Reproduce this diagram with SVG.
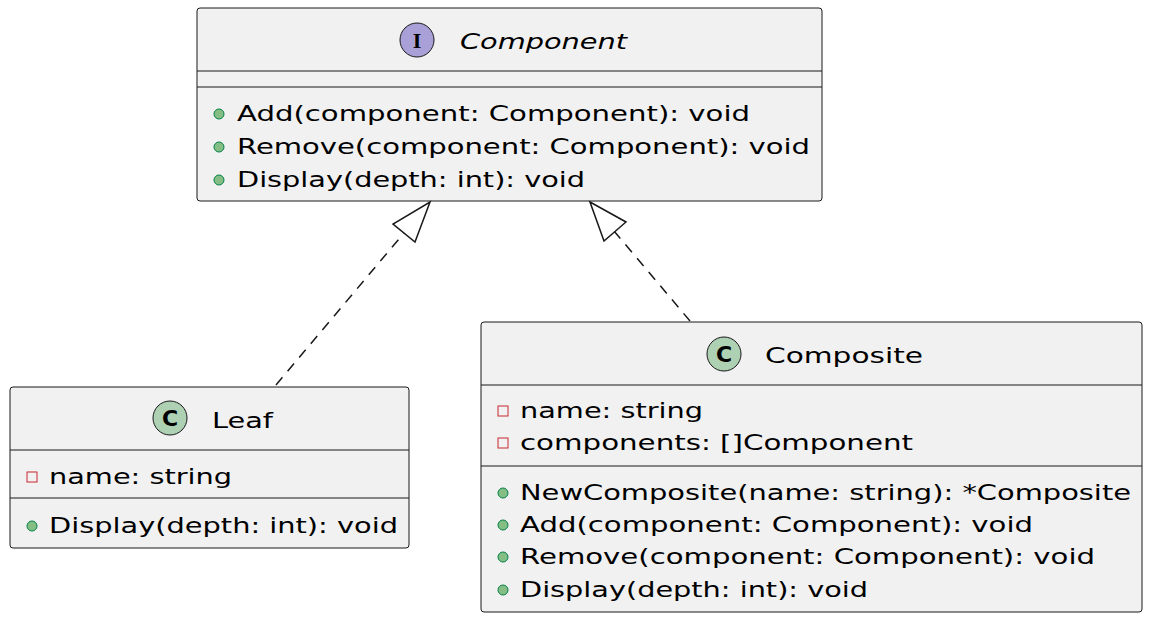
<svg xmlns="http://www.w3.org/2000/svg" width="1152" height="620" viewBox="0 0 1152 620">
<style>
.box{fill:#F1F1F1;stroke:#181818;stroke-width:1}
.sep{stroke:#181818;stroke-width:1}
text{font-family:"DejaVu Sans","Noto Sans",sans-serif;font-size:22px;fill:#000}
.pub{fill:#84BE84;stroke:#038048;stroke-width:1}
.priv{fill:none;stroke:#C82930;stroke-width:1}
.edge{stroke:#181818;stroke-width:1.5;fill:none;stroke-dasharray:10,8}
.head{fill:#fff;stroke:#181818;stroke-width:1.5}
</style>
<g id="Component">
<rect class="box" x="197" y="8" width="625" height="193" rx="3"/>
<circle cx="417" cy="40" r="17" fill="#A9A0D8" stroke="#181818"/>
<text x="417" y="48" text-anchor="middle" font-weight="bold" style="font-family:'Liberation Serif',serif">I</text>
<text x="460" y="49" font-style="italic" textLength="167" lengthAdjust="spacingAndGlyphs">Component</text>
<line class="sep" x1="197" y1="71" x2="822" y2="71"/>
<line class="sep" x1="197" y1="87" x2="822" y2="87"/>
<circle class="pub" cx="219" cy="114" r="5"/><text x="237" y="121" textLength="513" lengthAdjust="spacingAndGlyphs">Add(component: Component): void</text>
<circle class="pub" cx="219" cy="147" r="5"/><text x="237" y="154" textLength="573" lengthAdjust="spacingAndGlyphs">Remove(component: Component): void</text>
<circle class="pub" cx="219" cy="180" r="5"/><text x="237" y="187" textLength="348" lengthAdjust="spacingAndGlyphs">Display(depth: int): void</text>
</g>
<g id="Leaf">
<rect class="box" x="10" y="387" width="399" height="161" rx="3"/>
<circle cx="170" cy="418" r="17" fill="#ADD1B2" stroke="#181818"/>
<text x="170" y="426" text-anchor="middle" font-weight="bold">C</text>
<text x="212" y="428" textLength="61" lengthAdjust="spacingAndGlyphs">Leaf</text>
<line class="sep" x1="10" y1="450" x2="409" y2="450"/>
<rect class="priv" x="27" y="472" width="10" height="10"/><text x="49" y="484" textLength="183" lengthAdjust="spacingAndGlyphs">name: string</text>
<line class="sep" x1="10" y1="498" x2="409" y2="498"/>
<circle class="pub" cx="32" cy="526" r="5"/><text x="49" y="533" textLength="349" lengthAdjust="spacingAndGlyphs">Display(depth: int): void</text>
</g>
<g id="Composite">
<rect class="box" x="481" y="322" width="661" height="290" rx="3"/>
<circle cx="724" cy="354" r="17" fill="#ADD1B2" stroke="#181818"/>
<text x="724" y="362" text-anchor="middle" font-weight="bold">C</text>
<text x="765" y="363" textLength="158" lengthAdjust="spacingAndGlyphs">Composite</text>
<line class="sep" x1="481" y1="385" x2="1142" y2="385"/>
<rect class="priv" x="498" y="406" width="10" height="10"/><text x="520" y="418" textLength="183" lengthAdjust="spacingAndGlyphs">name: string</text>
<rect class="priv" x="498" y="438" width="10" height="10"/><text x="520" y="450" textLength="393" lengthAdjust="spacingAndGlyphs">components: []Component</text>
<line class="sep" x1="481" y1="466" x2="1142" y2="466"/>
<circle class="pub" cx="503" cy="493" r="5"/><text x="520" y="500" textLength="611" lengthAdjust="spacingAndGlyphs">NewComposite(name: string): *Composite</text>
<circle class="pub" cx="503" cy="525" r="5"/><text x="520" y="532" textLength="513" lengthAdjust="spacingAndGlyphs">Add(component: Component): void</text>
<circle class="pub" cx="503" cy="557" r="5"/><text x="520" y="564" textLength="575" lengthAdjust="spacingAndGlyphs">Remove(component: Component): void</text>
<circle class="pub" cx="503" cy="590" r="5"/><text x="520" y="597" textLength="348" lengthAdjust="spacingAndGlyphs">Display(depth: int): void</text>
</g>
<g id="connectors">
<path class="edge" d="M276,385 L404,233"/>
<polygon class="head" points="430,202 415,242 393,224"/>
<path class="edge" d="M690,321 L614,231"/>
<polygon class="head" points="590,202 626,222 604,241"/>
</g>
</svg>
